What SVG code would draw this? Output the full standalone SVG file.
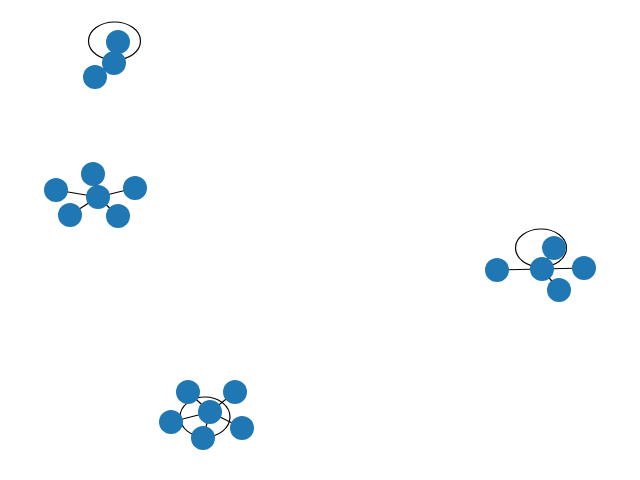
<svg xmlns="http://www.w3.org/2000/svg" width="640" height="480" viewBox="0 0 640 480">
<style>
.n{fill:#1f77b4}
.e{stroke:#000;stroke-width:1.2;fill:none}
</style>
<rect width="640" height="480" fill="#fff"/>
<g id="edges">
<ellipse class="e" cx="114.5" cy="41" rx="26" ry="19"/>
<line class="e" x1="114" y1="63" x2="95" y2="77"/>
<line class="e" x1="114" y1="63" x2="118" y2="42"/>
<line class="e" x1="98" y1="197" x2="93" y2="174"/>
<line class="e" x1="98" y1="197" x2="56" y2="190"/>
<line class="e" x1="98" y1="197" x2="70" y2="215"/>
<line class="e" x1="98" y1="197" x2="118" y2="216"/>
<line class="e" x1="98" y1="197" x2="135" y2="188"/>
<ellipse class="e" cx="541" cy="248" rx="25.5" ry="19"/>
<line class="e" x1="542" y1="269" x2="497" y2="270"/>
<line class="e" x1="542" y1="269" x2="554" y2="248"/>
<line class="e" x1="542" y1="269" x2="584" y2="268"/>
<line class="e" x1="542" y1="269" x2="559" y2="290"/>
<ellipse class="e" cx="205" cy="417" rx="25" ry="20"/>
<line class="e" x1="210" y1="412" x2="171" y2="422"/>
<line class="e" x1="210" y1="412" x2="235" y2="392"/>
<line class="e" x1="210" y1="412" x2="242" y2="428"/>
<line class="e" x1="210" y1="412" x2="188" y2="392"/>
<line class="e" x1="210" y1="412" x2="203" y2="438"/>
</g>
<g id="n1"><circle class="n" cx="95" cy="77" r="12"/></g>
<g id="n2"><circle class="n" cx="114" cy="63" r="12"/></g>
<g id="n3"><circle class="n" cx="118" cy="42" r="12"/></g>
<g id="n4"><circle class="n" cx="93" cy="174" r="12"/></g>
<g id="n5"><circle class="n" cx="56" cy="190" r="12"/></g>
<g id="n6"><circle class="n" cx="135" cy="188" r="12"/></g>
<g id="n7"><circle class="n" cx="70" cy="215" r="12"/></g>
<g id="n8"><circle class="n" cx="118" cy="216" r="12"/></g>
<g id="n9"><circle class="n" cx="98" cy="197" r="12"/></g>
<g id="n10"><circle class="n" cx="497" cy="270" r="12"/></g>
<g id="n11"><circle class="n" cx="584" cy="268" r="12"/></g>
<g id="n12"><circle class="n" cx="559" cy="290" r="12"/></g>
<g id="n13"><circle class="n" cx="542" cy="269" r="12"/></g>
<g id="n14"><circle class="n" cx="554" cy="248" r="12"/></g>
<g id="n15"><circle class="n" cx="188" cy="392" r="12"/></g>
<g id="n16"><circle class="n" cx="235" cy="392" r="12"/></g>
<g id="n17"><circle class="n" cx="171" cy="422" r="12"/></g>
<g id="n18"><circle class="n" cx="242" cy="428" r="12"/></g>
<g id="n19"><circle class="n" cx="203" cy="438" r="12"/></g>
<g id="n20"><circle class="n" cx="210" cy="412" r="12"/></g>
</svg>
